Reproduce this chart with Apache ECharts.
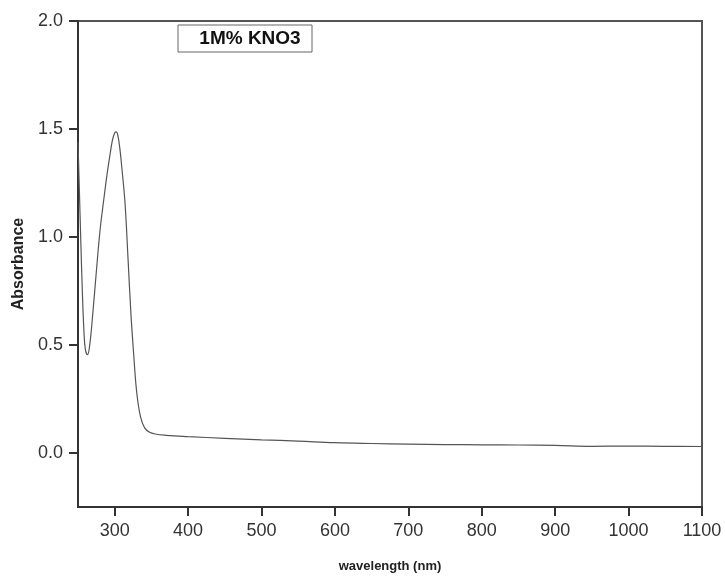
<!DOCTYPE html>
<html>
<head>
<meta charset="utf-8">
<script src="https://cdn.jsdelivr.net/npm/echarts@6/dist/echarts.min.js"></script>
<style>html,body{margin:0;padding:0;background:#fff;}#c{width:725px;height:576px;}</style>
</head>
<body>
<div id="c"></div>
<script>
const wavelengths = [250, 252, 254, 256, 258, 260, 263, 266, 270, 275, 280, 285, 290, 294, 297, 300, 302, 304, 307, 310, 314, 318, 322, 326, 330, 335, 341, 347, 355, 370, 400, 450, 500, 550, 600, 650, 700, 750, 800, 850, 900, 950, 1000, 1050, 1100];
const absorbance = [1.44, 1.2, 0.96, 0.74, 0.57, 0.48, 0.455, 0.5, 0.64, 0.84, 1.03, 1.17, 1.30, 1.39, 1.45, 1.482, 1.487, 1.475, 1.41, 1.31, 1.16, 0.91, 0.65, 0.45, 0.28, 0.17, 0.115, 0.097, 0.088, 0.082, 0.076, 0.068, 0.061, 0.055, 0.048, 0.044, 0.041, 0.039, 0.038, 0.037, 0.035, 0.031, 0.032, 0.031, 0.030];
const xTicks = [300, 400, 500, 600, 700, 800, 900, 1000, 1100];
const yTicks = [0, 0.5, 1.0, 1.5, 2.0];
const legendLabel = '1M% KNO3';

const chart = echarts.init(document.getElementById('c'));
const font = 'Liberation Sans, Arial, sans-serif';
chart.setOption({
  animation: false,
  grid: { left: 78, right: 23, top: 21, bottom: 69, outerBoundsMode: 'none', containLabel: false, show: true, borderColor: '#555', borderWidth: 2, backgroundColor: '#fff' },
  xAxis: {
    type: 'value', min: 250, max: 1100,
    name: 'wavelength (nm)', nameLocation: 'middle', nameGap: 53,
    nameTextStyle: { fontFamily: font, fontWeight: 'bold', fontSize: 13, color: '#222' },
    axisLine: { show: true, onZero: false, lineStyle: { color: '#333', width: 2 } },
    axisTick: { show: true, length: 9, lineStyle: { color: '#333', width: 2 }, customValues: xTicks },
    axisLabel: { fontFamily: font, fontSize: 18, color: '#333', margin: 15, customValues: xTicks, formatter: v => String(v) },
    splitLine: { show: false }
  },
  yAxis: {
    type: 'value', min: -0.25, max: 2.0,
    name: 'Absorbance', nameLocation: 'middle', nameGap: 47,
    nameTextStyle: { fontFamily: font, fontWeight: 'bold', fontSize: 16, color: '#222' },
    axisLine: { show: true, onZero: false, lineStyle: { color: '#333', width: 2 } },
    axisTick: { show: true, length: 9, lineStyle: { color: '#333', width: 2 }, customValues: yTicks },
    axisLabel: { fontFamily: font, fontSize: 18, color: '#333', margin: 15, customValues: yTicks, formatter: v => v.toFixed(1) },
    splitLine: { show: false }
  },
  series: [{
    type: 'line', smooth: 0.4, symbol: 'none',
    data: wavelengths.map((w, i) => [w, absorbance[i]]),
    lineStyle: { color: '#555', width: 1.2 }
  }],
  graphic: [
    { type: 'rect', shape: { x: 178, y: 25, width: 134, height: 27 }, style: { fill: '#fff', stroke: '#666', lineWidth: 1 } },
    { type: 'text', x: 250, y: 39, style: { text: legendLabel, font: 'bold 19px ' + font, fill: '#111', textAlign: 'center', textVerticalAlign: 'middle' } }
  ]
});
</script>
</body>
</html>
